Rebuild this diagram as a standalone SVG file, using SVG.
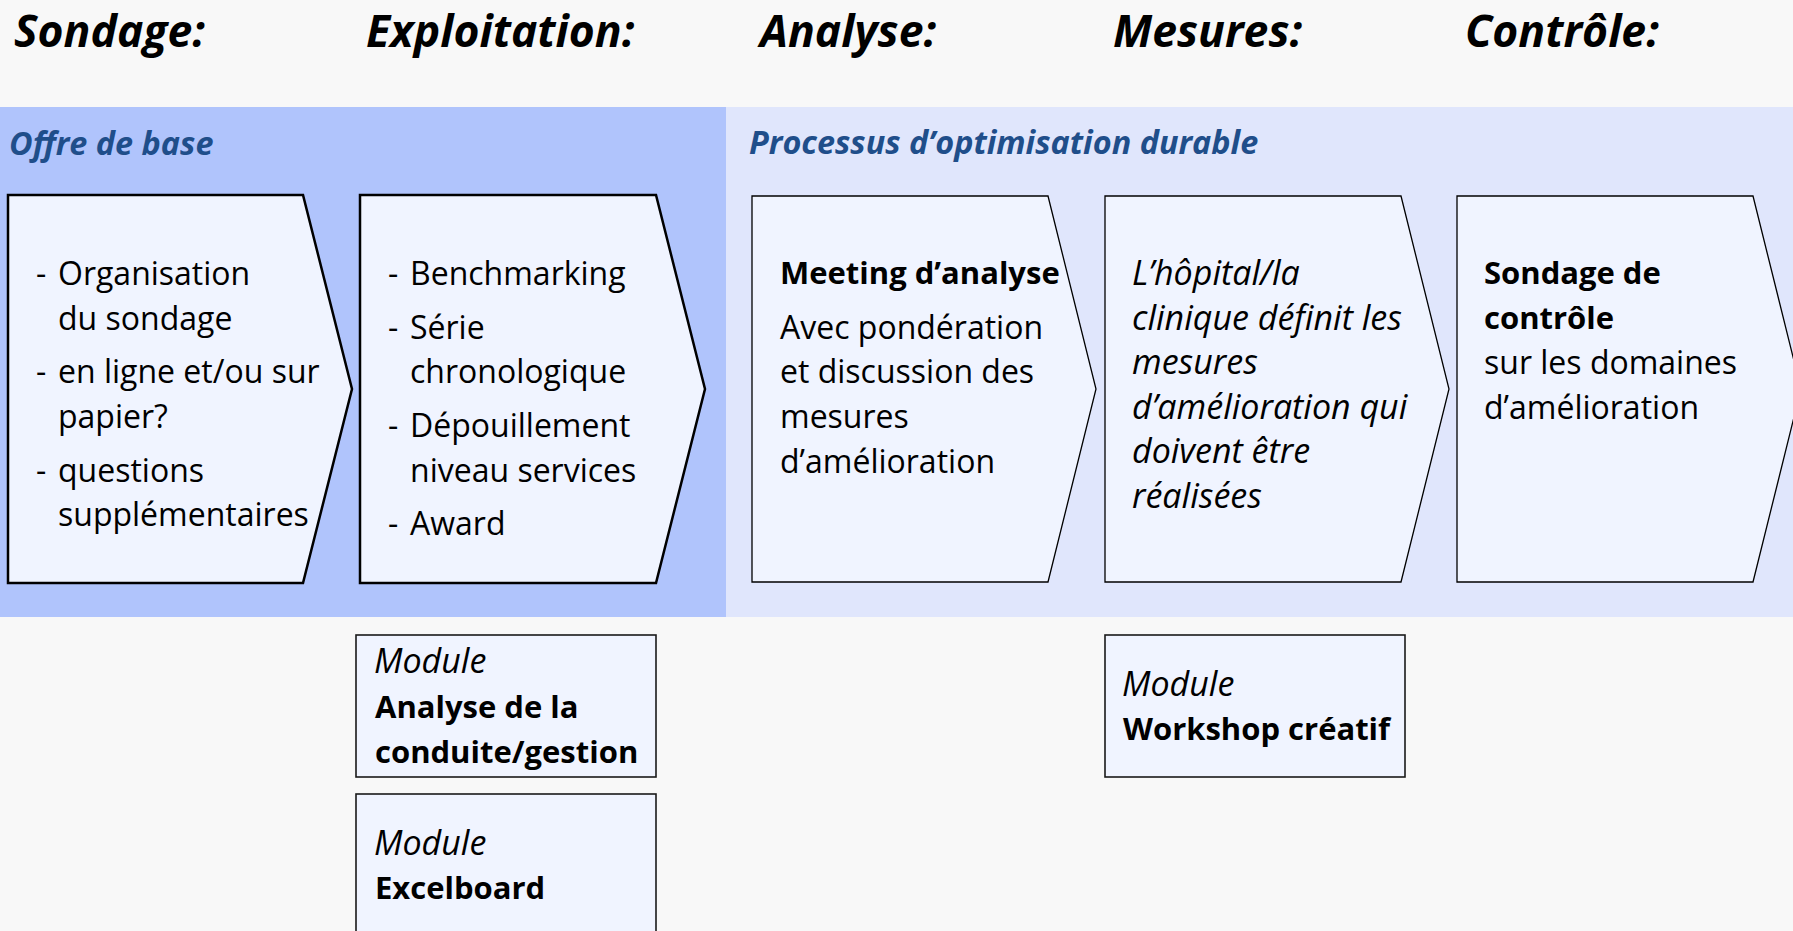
<svg xmlns="http://www.w3.org/2000/svg" width="1793" height="931" viewBox="0 0 1793 931">
<style>
text{font-family:"Open Sans","Liberation Sans",sans-serif;fill:#000}
.hdr{font-weight:bold;font-style:italic;font-size:44.5px}
.band{font-weight:bold;font-style:italic;font-size:32.4px;fill:#1F4E8A}
.t{font-size:32px}
.b{font-weight:bold;font-size:31px}
.i{font-style:italic;font-size:34px}
.chev1{fill:#F0F4FF;stroke:#000;stroke-width:2.5}
.chev2{fill:#F0F4FF;stroke:#000;stroke-width:1.3}
.mod{fill:#F0F4FF;stroke:#1a1a1a;stroke-width:1.6}
</style>
<rect x="0" y="0" width="1793" height="931" fill="#F8F8F8"/>
<g id="headers">
<text class="hdr" x="14" y="47">Sondage:</text>
<text class="hdr" x="366" y="47">Exploitation:</text>
<text class="hdr" x="760" y="47">Analyse:</text>
<text class="hdr" x="1113" y="47">Mesures:</text>
<text class="hdr" x="1465" y="47">Contrôle:</text>
</g>
<g id="band-base">
<rect x="0" y="107" width="726" height="510" fill="#B0C4FC"/>
<text class="band" x="9" y="155">Offre de base</text>
</g>
<g id="band-process">
<rect x="726" y="107" width="1067" height="510" fill="#E0E6FC"/>
<text class="band" x="749" y="154">Processus d’optimisation durable</text>
</g>
<g id="connectors"></g>
<g id="step-sondage">
<path class="chev1" d="M8,195 L303,195 L352,389 L303,583 L8,583 Z"/>
<text class="t" x="36" y="285">-</text>
<text class="t" x="58" y="285">Organisation</text>
<text class="t" x="58" y="329.6">du sondage</text>
<text class="t" x="36" y="383.3">-</text>
<text class="t" x="58" y="383.3">en ligne et/ou sur</text>
<text class="t" x="58" y="428">papier?</text>
<text class="t" x="36" y="481.6">-</text>
<text class="t" x="58" y="481.6">questions</text>
<text class="t" x="58" y="526.2">supplémentaires</text>
</g>
<g id="step-exploitation">
<path class="chev1" d="M360,195 L656,195 L705,389 L656,583 L360,583 Z"/>
<text class="t" x="388" y="285">-</text>
<text class="t" x="410" y="285">Benchmarking</text>
<text class="t" x="388" y="338.7">-</text>
<text class="t" x="410" y="338.7">Série</text>
<text class="t" x="410" y="383.3">chronologique</text>
<text class="t" x="388" y="437">-</text>
<text class="t" x="410" y="437">Dépouillement</text>
<text class="t" x="410" y="481.6">niveau services</text>
<text class="t" x="388" y="535.3">-</text>
<text class="t" x="410" y="535.3">Award</text>
</g>
<g id="step-analyse">
<path class="chev2" d="M752,196 L1048,196 L1096,389 L1048,582 L752,582 Z"/>
<text class="b" x="780" y="284">Meeting d’analyse</text>
<text class="t" x="780" y="338.7">Avec pondération</text>
<text class="t" x="780" y="383.3">et discussion des</text>
<text class="t" x="780" y="428">mesures</text>
<text class="t" x="780" y="472.5">d’amélioration</text>
</g>
<g id="step-mesures">
<path class="chev2" d="M1105,196 L1401,196 L1449,389 L1401,582 L1105,582 Z"/>
<text class="i" x="1132" y="285">L’hôpital/la</text>
<text class="i" x="1132" y="329.6">clinique définit les</text>
<text class="i" x="1132" y="374">mesures</text>
<text class="i" x="1132" y="419">d’amélioration qui</text>
<text class="i" x="1132" y="463">doivent être</text>
<text class="i" x="1132" y="508">réalisées</text>
</g>
<g id="step-controle">
<path class="chev2" d="M1457,196 L1753,196 L1801,389 L1753,582 L1457,582 Z"/>
<text class="b" x="1484" y="284">Sondage de</text>
<text class="b" x="1484" y="328.6">contrôle</text>
<text class="t" x="1484" y="374">sur les domaines</text>
<text class="t" x="1484" y="419">d’amélioration</text>
</g>
<g id="module-conduite">
<rect class="mod" x="356" y="635" width="300" height="142"/>
<text class="i" x="374" y="673">Module</text>
<text class="b" x="375" y="718">Analyse de la</text>
<text class="b" x="375" y="762.6">conduite/gestion</text>
</g>
<g id="module-excelboard">
<rect class="mod" x="356" y="794" width="300" height="160"/>
<text class="i" x="374" y="855">Module</text>
<text class="b" x="375" y="899">Excelboard</text>
</g>
<g id="module-workshop">
<rect class="mod" x="1105" y="635" width="300" height="142"/>
<text class="i" x="1122" y="696">Module</text>
<text class="b" x="1123" y="740">Workshop créatif</text>
</g>
</svg>
